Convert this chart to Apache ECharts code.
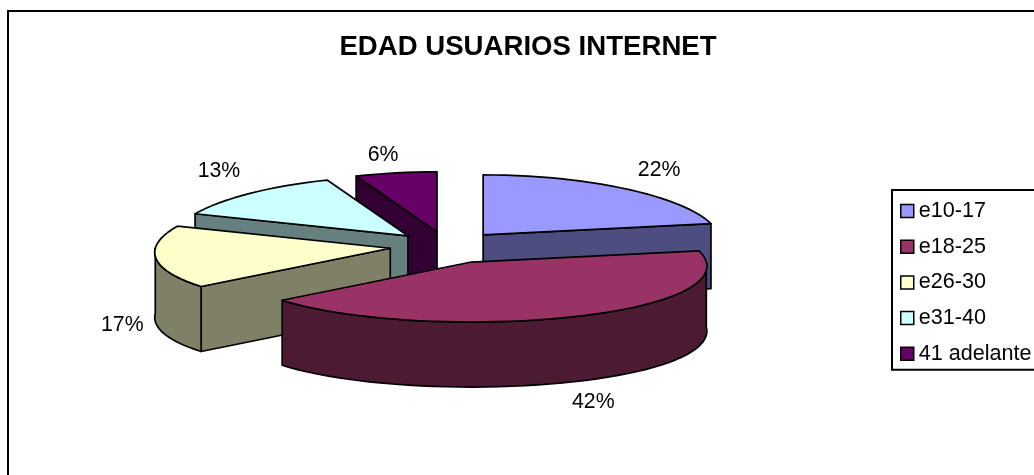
<!DOCTYPE html>
<html>
<head>
<meta charset="utf-8">
<script src="https://cdn.jsdelivr.net/npm/echarts@6/dist/echarts.min.js"></script>
<style>html,body{margin:0;padding:0;background:#fff}#chart{width:1034px;height:475px}</style>
</head>
<body>
<div id="chart"></div>
<script>
// Age groups of internet users, shares in percent
const categories = ['e10-17', 'e18-25', 'e26-30', 'e31-40', '41 adelante'];
const shares = [22, 42, 17, 13, 6];
const chartTitle = 'EDAD USUARIOS INTERNET';

// Slice appearance and the tilted-pie geometry
const topColors = ['#9999FF', '#993366', '#FFFFCC', '#CCFFFF', '#660066'];
const sideColors = ['#4D4D80', '#4D1A33', '#808066', '#668080', '#330033'];
const paintOrder = [2, 4, 3, 1, 0]; // stacking rank per slice: far slices first
const labelShift = [[176, -65], [122, 140], [-268, 77], [-189, -65], [-54, -77]];
const sliceNudge = [[0, 0], [0, 3], [-2, 0], [0, 0], [0, 0]];
const pie = { cx: 447.5, cy: 246, rx: 235, ry: 60, depth: 65, explode: 0.24, perspective: 0.07 };
const FONT = '"Liberation Sans", Arial, sans-serif';

const total = shares.reduce((a, b) => a + b, 0);
const rad = d => d * Math.PI / 180;

// Points along the rim; the near side of the ellipse is drawn slightly wider
function arcPoints(ox, oy, from, to) {
  const pts = [];
  const steps = Math.max(1, Math.ceil((to - from) / 3));
  for (let i = 0; i <= steps; i++) {
    const t = rad(from + (to - from) * i / steps);
    const widen = 1 - pie.perspective * Math.cos(t);
    pts.push([ox + pie.rx * widen * Math.sin(t), oy - pie.ry * Math.cos(t)]);
  }
  return pts;
}

function sliceItem(index) {
  return function (params, api) {
    const value = api.value(0);
    let before = 0;
    for (let i = 0; i < index; i++) before += shares[i];
    const start = before / total * 360;
    const end = start + value / total * 360;
    const mid = rad((start + end) / 2);
    const ox = pie.cx + pie.explode * 233 * Math.sin(mid) + sliceNudge[index][0];
    const oy = pie.cy - pie.explode * pie.ry * Math.cos(mid) + sliceNudge[index][1];
    const face = (points, fill) => ({
      type: 'polygon',
      shape: { points },
      style: { fill, stroke: '#000', lineWidth: 1.7, lineJoin: 'round' }
    });
    const drop = pts => pts.map(p => [p[0], p[1] + pie.depth]);
    const children = [];
    const cutFace = angle => {
      const edge = arcPoints(ox, oy, angle, angle)[0];
      return [[ox, oy], edge].concat(drop([edge, [ox, oy]]));
    };
    // Cut faces turned toward the viewer
    if (Math.sin(rad(start)) < -1e-6) children.push(face(cutFace(start), sideColors[index]));
    if (Math.sin(rad(end)) > 1e-6) children.push(face(cutFace(end), sideColors[index]));
    // Outer rim, only the front half of the ellipse is visible
    const rimFrom = Math.max(start, 90);
    const rimTo = Math.min(end, 270);
    if (rimTo > rimFrom) {
      const rim = arcPoints(ox, oy, rimFrom, rimTo);
      children.push(face(rim.concat(drop(rim).reverse()), sideColors[index]));
    }
    children.push(face([[ox, oy]].concat(arcPoints(ox, oy, start, end)), topColors[index]));
    children.push({
      type: 'text',
      style: {
        text: value + '%',
        x: ox + labelShift[index][0],
        y: oy + labelShift[index][1],
        fill: '#000',
        font: '21.3px ' + FONT,
        align: 'center',
        verticalAlign: 'middle'
      }
    });
    return { type: 'group', children };
  };
}

const chart = echarts.init(document.getElementById('chart'), null, { renderer: 'canvas' });
chart.setOption({
  animation: false,
  backgroundColor: '#fff',
  title: {
    text: chartTitle,
    left: 528,
    top: 33,
    textAlign: 'center',
    padding: 0,
    textStyle: { fontFamily: FONT, fontSize: 27.6, fontWeight: 'bold', color: '#000' }
  },
  legend: {
    orient: 'vertical',
    left: 892,
    top: 190,
    padding: [10, 40, 5, 8],
    itemGap: 13.7,
    itemWidth: 13,
    itemHeight: 13,
    icon: 'rect',
    borderColor: '#000',
    borderWidth: 2,
    backgroundColor: '#fff',
    selectedMode: false,
    data: categories,
    itemStyle: { borderColor: '#000', borderWidth: 1.5 },
    textStyle: { fontFamily: FONT, fontSize: 21.6, color: '#000' }
  },
  graphic: [{
    type: 'rect',
    z: -1,
    silent: true,
    shape: { x: 8, y: 11, width: 1100, height: 520 },
    style: { fill: '#fff', stroke: '#000', lineWidth: 2 }
  }],
  series: categories.map((name, i) => ({
    type: 'custom',
    name,
    coordinateSystem: 'none',
    z: 2 + paintOrder[i],
    itemStyle: { color: topColors[i] },
    renderItem: sliceItem(i),
    data: [[shares[i]]]
  }))
});
</script>
</body>
</html>
